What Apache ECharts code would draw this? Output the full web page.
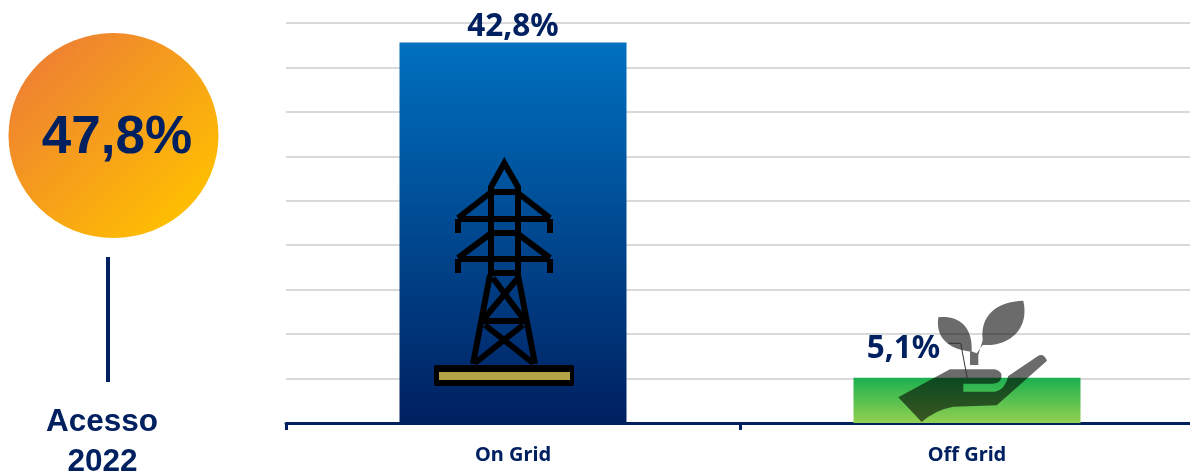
<!DOCTYPE html>
<html><head><meta charset="utf-8">
<style>html,body{margin:0;padding:0;background:#fff;overflow:hidden;width:1190px;height:475px}#c{width:1200px;height:475px}</style>
<script src="https://cdn.jsdelivr.net/npm/echarts@6/dist/echarts.min.js"></script>
</head><body><div id="c"></div>
<script>
const categories = ['On Grid', 'Off Grid'];
const values = [42.8, 5.1];
const totalLabel = '47,8%';
const captionLines = ['Acesso', '2022'];
const navy = '#002060';

const fmt = v => v.toFixed(1).replace('.', ',') + '%';
const chart = echarts.init(document.getElementById('c'), null, {renderer: 'canvas'});

const towerPath = 'M491,275 L491,187 L504.3,163 L518,187 L518,275 ' +
  'M489,192 L520,192 M490,193 L458,218 M518,193 L550,218 M458,219 L550,219 M458,219 L458,233 M550,219 L550,233 ' +
  'M489,233 L520,233 M490,234 L458,258 M518,234 L550,258 M458,259 L550,259 M458,259 L458,273 M550,259 L550,273 ' +
  'M489,273 L520,273 M490,275 L473,364 M518,275 L535,364 M482,321 L525,321 ' +
  'M493,278 L525,321 M518,278 L482,321 M485,325 L533,363 M523,325 L475,363';

const z = (x, y) => (840 + x / 3).toFixed(1) + ',' + (290 + y / 3).toFixed(1);
const plantPath =
  'M' + z(295,82) + ' C' + z(345,75) + ' ' + z(400,100) + ' ' + z(395,185) + ' C' + z(335,180) + ' ' + z(285,150) + ' ' + z(295,82) + ' Z ' +
  'M' + z(550,32) + ' C' + z(470,35) + ' ' + z(420,75) + ' ' + z(428,150) + ' L' + z(415,195) + ' L' + z(415,225) + ' L' + z(390,225) + ' L' + z(390,182) + ' L' + z(410,190) + ' L' + z(428,165) + ' C' + z(505,170) + ' ' + z(570,120) + ' ' + z(550,32) + ' Z ' +
  'M' + z(175,322) + ' L' + z(330,238) + ' L' + z(465,238) + ' Q' + z(490,245) + ' ' + z(484,265) + ' Q' + z(478,281) + ' ' + z(458,281) + ' L' + z(370,281) + ' L' + z(370,305) + ' L' + z(465,305) + ' Q' + z(495,300) + ' ' + z(505,258) + ' L' + z(595,197) + ' Q' + z(612,190) + ' ' + z(621,212) + ' L' + z(470,346) + ' L' + z(340,350) + ' Q' + z(285,360) + ' ' + z(245,396) + ' Z';
const leaderPath = 'M' + z(325,160) + ' L' + z(362,160) + ' L' + z(382,265);

echarts.graphic.registerShape('towerIcon', echarts.graphic.extendPath(towerPath, {}));
echarts.graphic.registerShape('plantIcon', echarts.graphic.extendPath(plantPath, {}));
echarts.graphic.registerShape('leaderIcon', echarts.graphic.extendPath(leaderPath, {}));

chart.setOption({
  animation: false,
  grid: {left: 286, top: 23, width: 908, height: 400, containLabel: false},
  xAxis: {
    type: 'category', data: categories,
    axisLine: {lineStyle: {color: navy, width: 3}},
    axisTick: {show: true, alignWithLabel: false, length: 7, lineStyle: {color: navy, width: 3}},
    axisLabel: {color: navy, fontFamily: 'Noto Sans', fontWeight: 'bold', fontSize: 20, margin: 22}
  },
  yAxis: {
    type: 'value', min: 0, max: 45, interval: 5,
    axisLine: {show: false}, axisTick: {show: false}, axisLabel: {show: false},
    splitLine: {lineStyle: {color: '#d9d9d9', width: 2}}
  },
  series: [{
    type: 'bar', barWidth: '50%',
    label: {show: true, position: 'top', distance: 0, color: navy, fontFamily: 'Noto Sans', fontWeight: 'bold', fontSize: 31.5, formatter: p => fmt(p.value)},
    data: [
      {value: values[0], itemStyle: {color: new echarts.graphic.LinearGradient(0, 0, 0, 1, [{offset: 0, color: '#0070c0'}, {offset: 1, color: '#002060'}])}},
      {value: values[1],
        label: {offset: [-63.5, -13]},
        itemStyle: {color: new echarts.graphic.LinearGradient(0, 0, 0, 1, [{offset: 0, color: '#1bb050'}, {offset: 1, color: '#92d050'}])}}
    ]
  }],
  graphic: [
    {type: 'circle', z: 40, x: 113.5, y: 135.5, scaleY: 0.976, shape: {cx: 0, cy: 0, r: 105},
      style: {fill: new echarts.graphic.LinearGradient(0.12, 0.12, 0.88, 0.88, [{offset: 0, color: '#ee8033'}, {offset: 1, color: '#ffc000'}])}},
    {type: 'text', z: 41, style: {x: 117, y: 138, text: totalLabel, fill: navy, font: 'bold 53px "Liberation Sans"', textAlign: 'center', textVerticalAlign: 'middle'}},
    {type: 'rect', z: 40, shape: {x: 106, y: 257, width: 4, height: 125}, style: {fill: navy}},
    {type: 'text', z: 41, style: {x: 102, y: 422, text: captionLines[0], fill: navy, font: 'bold 31.5px "Liberation Sans"', textAlign: 'center', textVerticalAlign: 'middle'}},
    {type: 'text', z: 41, style: {x: 102.5, y: 462, text: captionLines[1], fill: navy, font: 'bold 31.5px "Liberation Sans"', textAlign: 'center', textVerticalAlign: 'middle'}},
    {type: 'towerIcon', z: 50, style: {fill: null, stroke: '#000', lineWidth: 6}},
    {type: 'rect', z: 50, shape: {x: 434, y: 365, width: 140, height: 21, r: 2}, style: {fill: '#000'}},
    {type: 'rect', z: 51, shape: {x: 439, y: 372, width: 131, height: 8}, style: {fill: '#b3a547'}},
    {type: 'plantIcon', z: 50, style: {fill: 'rgba(0,0,0,0.58)'}},
    {type: 'leaderIcon', z: 50, style: {fill: null, stroke: '#333', lineWidth: 1}}
  ]
});
</script></body></html>
